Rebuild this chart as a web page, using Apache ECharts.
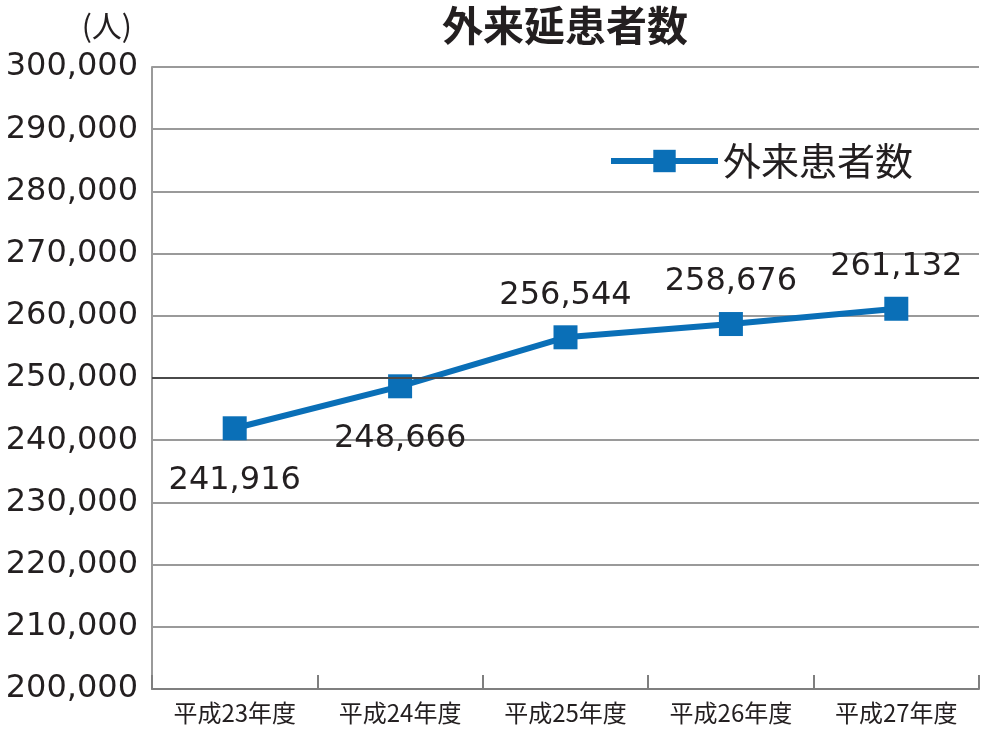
<!DOCTYPE html>
<html><head><meta charset="utf-8">
<script src="https://cdn.jsdelivr.net/npm/echarts@6/dist/echarts.min.js"></script>
<style>html,body{margin:0;padding:0;background:#fff}#c{width:1000px;height:740px}</style>
</head><body><div id="c"></div>
<script>
const categories = ['平成23年度','平成24年度','平成25年度','平成26年度','平成27年度'];
const values = [241916, 248666, 256544, 258676, 261132];
const seriesName = '外来患者数';
const titleText = '外来延患者数';
const unitText = '(人)';

const cjk = '"Noto Sans CJK JP", "Noto Sans", sans-serif';
const num = '"DejaVu Sans", "Noto Sans CJK JP", sans-serif';
const chart = echarts.init(document.getElementById('c'));
const data = values.map((v, i) => ({
  value: v,
  label: { position: i < 2 ? 'bottom' : 'top', distance: i < 2 ? 24 : 14 }
}));
chart.setOption({
  animation: false,
  title: {
    text: titleText, left: 560, top: 0, textAlign: 'center',
    textStyle: { fontFamily: cjk, fontSize: 41, fontWeight: 'bold', color: '#231f20' }
  },
  legend: {
    data: [seriesName], left: 603, top: 137,
    itemWidth: 107, itemHeight: 28, itemGap: 10,
    lineStyle: { width: 6 },
    textStyle: { fontFamily: cjk, fontSize: 38, color: '#231f20' }
  },
  grid: { left: 152, right: 21, top: 67, bottom: 51, containLabel: false },
  xAxis: {
    type: 'category', data: categories, boundaryGap: true,
    axisLine: { lineStyle: { color: '#7f7f7f', width: 2 } },
    axisTick: { show: true, inside: true, length: 14, lineStyle: { color: '#7f7f7f', width: 2 } },
    axisLabel: { fontFamily: cjk, fontSize: 24, color: '#231f20', margin: 12 }
  },
  yAxis: {
    type: 'value', min: 200000, max: 300000, interval: 10000,
    name: unitText, nameLocation: 'end', nameGap: 26,
    nameTextStyle: { fontFamily: cjk, fontSize: 30, color: '#231f20', align: 'right', padding: [0, 20, 0, 0] },
    axisLine: { show: true, lineStyle: { color: '#9a9a9a', width: 2 } },
    axisTick: { show: false },
    axisLabel: {
      fontFamily: num, fontSize: 32, color: '#231f20', margin: 14,
      formatter: v => v.toLocaleString('en-US')
    },
    splitLine: { lineStyle: { width: 2, color: '#9a9a9a' } }
  },
  series: [{
    name: seriesName, type: 'line', data: data,
    symbol: 'rect', symbolSize: 24,
    lineStyle: { color: '#0a6fb7', width: 6 },
    itemStyle: { color: '#0a6fb7' },
    label: {
      show: true, fontFamily: num, fontSize: 32, color: '#231f20',
      formatter: p => p.value.toLocaleString('en-US')
    },
    markLine: {
      silent: true, symbol: 'none', label: { show: false },
      lineStyle: { color: '#4a4a4a', type: 'solid', width: 2 },
      data: [{ yAxis: 250000 }]
    },
    z: 3
  }]
});
</script></body></html>
